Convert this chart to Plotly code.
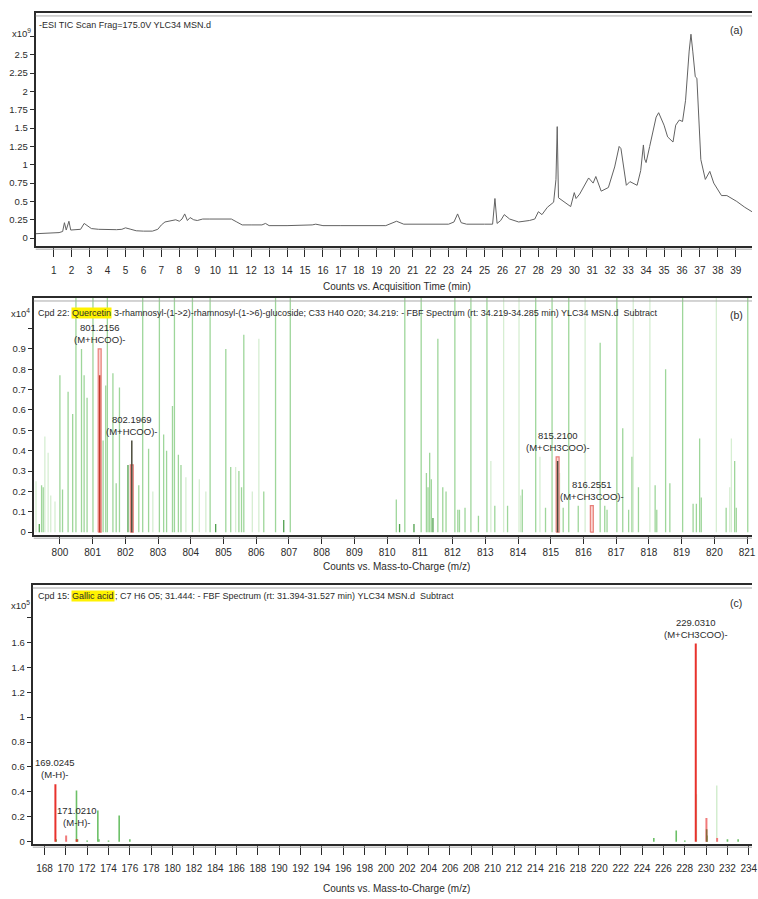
import plotly.graph_objects as go

W, H = 758, 899
FONT = "Liberation Sans, Arial, sans-serif"
INK = "#2b2b2b"

# ---------------- (a) total ion chromatogram ----------------
tic_time = [0.0, 0.5, 1.0, 1.3, 1.5, 1.6, 1.7, 1.85, 1.95, 2.2, 2.5, 2.7, 2.85, 3.1, 3.5,
            4.0, 4.5, 4.8, 5.0, 5.3, 5.6, 6.0, 6.5, 6.8, 7.0, 7.2, 7.5, 7.8, 8.0, 8.15,
            8.3, 8.45, 8.6, 8.8, 9.0, 9.3, 9.7, 10.0, 10.5, 10.9, 11.2, 11.5, 12.0, 12.6,
            12.8, 13.0, 14.0, 15.0, 15.4, 15.6, 16.0, 17.0, 18.0, 19.0, 19.5, 19.9, 20.1,
            20.5, 21.0, 22.0, 23.0, 23.3, 23.5, 23.7, 24.0, 25.0, 25.45, 25.58, 25.7, 25.9,
            26.1, 26.4, 26.9, 27.5, 27.8, 28.0, 28.2, 28.5, 28.85, 28.98, 29.05, 29.12,
            29.3, 29.6, 29.8, 30.0, 30.1, 30.3, 30.6, 30.8, 31.05, 31.2, 31.5, 31.9, 32.25,
            32.5, 32.6, 32.75, 32.9, 33.1, 33.5, 33.7, 33.85, 33.92, 34.0, 34.2, 34.47,
            34.56, 34.7, 34.85, 35.0, 35.2, 35.5, 35.65, 35.85, 36.03, 36.2, 36.4, 36.5,
            36.6, 36.74, 36.83, 36.96, 37.05, 37.3, 37.55, 37.77, 38.2, 38.5, 39.05, 39.5,
            39.9]
tic_counts = [0.06, 0.063, 0.07, 0.075, 0.09, 0.21, 0.11, 0.23, 0.11, 0.11, 0.12, 0.2, 0.17,
              0.13, 0.12, 0.115, 0.115, 0.12, 0.14, 0.12, 0.1, 0.095, 0.095, 0.12, 0.18,
              0.22, 0.23, 0.25, 0.23, 0.26, 0.33, 0.24, 0.28, 0.25, 0.24, 0.26, 0.26, 0.26,
              0.27, 0.26, 0.22, 0.18, 0.18, 0.18, 0.2, 0.17, 0.17, 0.17, 0.18, 0.19, 0.17,
              0.17, 0.17, 0.18, 0.17, 0.21, 0.23, 0.19, 0.19, 0.19, 0.19, 0.22, 0.33, 0.21,
              0.19, 0.19, 0.19, 0.54, 0.2, 0.24, 0.32, 0.26, 0.22, 0.24, 0.26, 0.36, 0.32,
              0.42, 0.49, 0.8, 1.52, 0.55, 0.52, 0.46, 0.43, 0.62, 0.54, 0.6, 0.74, 0.82,
              0.75, 0.84, 0.64, 0.69, 0.97, 1.25, 1.22, 1.0, 0.72, 0.77, 0.72, 0.92, 1.27,
              1.08, 1.03, 1.25, 1.59, 1.65, 1.71, 1.63, 1.54, 1.38, 1.31, 1.54, 1.61, 1.59,
              1.88, 2.55, 2.78, 2.55, 2.2, 2.18, 1.4, 1.07, 0.8, 0.91, 0.75, 0.58, 0.58,
              0.5, 0.42, 0.36]
a_xticks = list(range(1, 40))
a_yticks = [0, 0.25, 0.5, 0.75, 1, 1.25, 1.5, 1.75, 2, 2.25, 2.5, 2.75]
a_yticktext = ["0", "0.25", "0.5", "0.75", "1", "1.25", "1.5", "1.75", "2", "2.25", "2.5", " "]

# ---------------- (b) quercetin glycoside spectrum ----------------
b_tall_mz = [800.49, 801.01, 801.45, 802.53, 803.04, 803.50, 804.05, 804.59, 805.07, 805.62,
             806.59, 807.04, 810.54, 811.04, 811.55, 812.07, 812.56, 813.05, 814.54, 815.04,
             815.55, 816.51, 817.02, 818.51, 819.03, 821.02]
b_tall_h = [1.2, 1.2, 1.2, 1.2, 1.2, 1.2, 1.2, 1.2, 0.9, 0.97,
            1.2, 1.2, 1.2, 1.2, 0.95, 1.2, 1.2, 1.2, 1.2, 1.2,
            1.2, 0.93, 1.2, 0.80, 1.2, 1.2]
b_pale_tall_mz = [806.08, 813.56, 814.03, 816.05, 817.52, 818.03, 820.06]
b_pale_tall_h = [0.95, 1.2, 1.2, 1.2, 1.2, 1.2, 1.2]
b_peak_mz = [799.44, 799.49, 800.00, 800.08, 800.25, 800.39, 800.66, 800.74, 800.83, 801.32,
             801.40, 801.62, 801.72, 801.82, 802.41, 802.71, 803.17, 803.26, 803.44, 803.62,
             803.70, 805.22, 805.47, 805.55, 806.23, 810.28, 811.20, 811.25, 811.30, 811.35,
             811.70, 811.80, 812.16, 812.21, 812.38, 812.79, 813.29, 813.68, 814.13, 814.84,
             815.38, 815.84, 816.65, 816.72, 817.20, 817.38, 817.48, 817.68, 818.19, 818.24,
             818.64, 819.35, 819.45, 819.55, 819.60, 820.36, 820.62, 820.67]
b_peak_h = [0.23, 0.22, 0.77, 0.21, 0.69, 0.58, 0.90, 0.77, 0.66, 0.45,
            0.72, 0.78, 0.24, 0.71, 0.23, 0.41, 0.48, 0.40, 0.62, 0.38,
            0.33, 0.32, 0.30, 0.22, 0.20, 0.16, 0.29, 0.22, 0.39, 0.26,
            0.22, 0.20, 0.11, 0.11, 0.12, 0.08, 0.13, 0.13, 0.21, 0.12,
            0.12, 0.13, 0.13, 0.11, 0.51, 0.11, 0.37, 0.22, 0.23, 0.11,
            0.24, 0.14, 0.14, 0.46, 0.17, 0.12, 0.35, 0.12]
b_pale_mz = [799.27, 799.54, 799.64, 799.72, 799.85, 802.84, 803.85, 804.26, 804.46, 805.37,
             805.88, 813.17, 814.08, 814.67, 815.27, 820.47, 820.52]
b_pale_h = [0.25, 0.47, 0.39, 0.18, 0.15, 0.20, 0.27, 0.26, 0.20, 0.32,
            0.20, 0.35, 0.18, 0.37, 0.29, 0.22, 0.46]
b_dark_mz = [799.37, 802.08, 804.76, 806.84, 810.38, 810.82, 811.40]
b_dark_h = [0.04, 0.33, 0.04, 0.06, 0.04, 0.04, 0.07]
# assigned adducts: observed intensity and predicted isotope box
b_ion_mz = [801.2156, 802.1969, 815.2100, 816.2551]
b_ion_label = ["(M+HCOO)-", "(M+HCOO)-", "(M+CH3COO)-", "(M+CH3COO)-"]
b_ion_obs = [0.77, 0.45, 0.35, 0.0]
b_ion_pred = [0.90, 0.33, 0.37, 0.13]
b_ion_label_y = [0.90, 0.45, 0.37, 0.13]
b_xticks = list(range(800, 822))
b_yticks = [0, 0.1, 0.2, 0.3, 0.4, 0.5, 0.6, 0.7, 0.8, 0.9, 1.0]
b_yticktext = ["0", "0.1", "0.2", "0.3", "0.4", "0.5", "0.6", "0.7", "0.8", "0.9", " "]

# ---------------- (c) gallic acid spectrum ----------------
c_peak_mz = [169.1, 171.0, 171.1, 172.0, 173.0, 173.1, 174.0, 175.0, 176.0, 225.1, 227.2,
             228.0, 230.1, 232.0, 233.0]
c_peak_h = [0.02, 0.41, 0.02, 0.01, 0.25, 0.02, 0.01, 0.21, 0.02, 0.03, 0.09,
            0.01, 0.05, 0.02, 0.02]
c_pale_mz = [229.1, 231.0]
c_pale_h = [0.38, 0.45]
c_ion_mz = [169.0245, 171.0210, 229.0310]
c_ion_label = ["(M-H)-", "(M-H)-", "(M+CH3COO)-"]
c_ion_h = [0.46, 0.02, 1.59]
c_ion_label_y = [0.46, 0.08, 1.59]
c_iso_mz = [170.03, 230.03, 231.03]
c_iso_h = [0.05, 0.19, 0.03]
c_obs_mz = [230.05]
c_obs_h = [0.10]
c_xticks = list(range(168, 236, 2))
c_yticks = [0, 0.2, 0.4, 0.6, 0.8, 1.0, 1.2, 1.4, 1.6, 1.8]
c_yticktext = ["0", "0.2", "0.4", "0.6", "0.8", "1", "1.2", "1.4", "1.6", " "]


def px(x):
    return x / W


def py(y):
    return 1 - y / H


def stems(mz, h):
    xs, ys = [], []
    for m, v in zip(mz, h):
        xs += [m, m, None]
        ys += [0, v, None]
    return xs, ys


def boxes(mz, h, half):
    xs, ys = [], []
    for m, v in zip(mz, h):
        xs += [m - half, m - half, m + half, m + half, m - half, None]
        ys += [0, v, v, 0, 0, None]
    return xs, ys


fig = go.Figure()

# (a)
fig.add_trace(go.Scatter(x=tic_time, y=tic_counts, mode="lines",
                         line=dict(color="#626262", width=1.0), xaxis="x", yaxis="y"))


def add_stems(mz, h, color, width, ax):
    xs, ys = stems(mz, h)
    fig.add_trace(go.Scatter(x=xs, y=ys, mode="lines", line=dict(color=color, width=width),
                             xaxis="x" + ax, yaxis="y" + ax))


# (b)
add_stems(b_pale_tall_mz, b_pale_tall_h, "#d6eed2", 1.3, "2")
add_stems(b_pale_mz, b_pale_h, "#d6eed2", 1.3, "2")
add_stems(b_tall_mz, b_tall_h, "#9ed69a", 1.3, "2")
add_stems(b_peak_mz, b_peak_h, "#9ed69a", 1.3, "2")
add_stems(b_dark_mz, b_dark_h, "#4f9f4c", 1.3, "2")
bx, by = boxes(b_ion_mz, b_ion_pred, 0.045)
fig.add_trace(go.Scatter(x=bx, y=by, mode="lines", fill="toself",
                         fillcolor="rgba(245,170,165,0.5)",
                         line=dict(color="#e87f78", width=1.2), xaxis="x2", yaxis="y2"))
add_stems(b_ion_mz[:1], b_ion_obs[:1], "#c0392b", 1.5, "2")
add_stems(b_ion_mz[1:], b_ion_obs[1:], "#4a4a3a", 1.5, "2")

# (c)
add_stems(c_pale_mz, c_pale_h, "#cdeac8", 1.3, "3")
add_stems(c_peak_mz, c_peak_h, "#6cc067", 1.6, "3")
add_stems(c_iso_mz, c_iso_h, "#f07a7a", 2.0, "3")
add_stems(c_ion_mz, c_ion_h, "#e8322c", 2.0, "3")
add_stems(c_obs_mz, c_obs_h, "#8a6a3a", 1.6, "3")

panels = {
    "": dict(left=36, top=13, bottom=247, xr=[0, 39.9], yr=[-0.11, 3.07],
             xt=a_xticks, yt=a_yticks, ytt=a_yticktext, tl=9, so=5),
    "2": dict(left=34, top=299, bottom=537, xr=[799.2, 821.15], yr=[-0.015, 1.15],
              xt=b_xticks, yt=b_yticks, ytt=b_yticktext, tl=7, so=0),
    "3": dict(left=33, top=587, bottom=847, xr=[166.9, 234.3], yr=[-0.02, 2.06],
              xt=c_xticks, yt=c_yticks, ytt=c_yticktext, tl=9, so=5),
}

layout = dict(width=W, height=H, margin=dict(l=0, r=0, t=0, b=0),
              paper_bgcolor="white", plot_bgcolor="white", showlegend=False,
              font=dict(family=FONT, size=10, color=INK))
shapes = []
for k, p in panels.items():
    xa = "xaxis" + k
    ya = "yaxis" + k
    layout[xa] = dict(domain=[px(p["left"]), 1], range=p["xr"], anchor="y" + k,
                      showline=True, linecolor=INK, linewidth=2, mirror=True,
                      ticks="outside", ticklen=p["tl"], tickwidth=1.2, tickcolor=INK,
                      tickvals=p["xt"], showgrid=False, zeroline=False,
                      ticklabelstandoff=p["so"], ticklabeloverflow="allow",
                      tickfont=dict(size=10, family=FONT, color=INK))
    layout[ya] = dict(domain=[py(p["bottom"]), py(p["top"])], range=p["yr"], anchor="x" + k,
                      showline=True, linecolor=INK, linewidth=2,
                      ticks="outside", ticklen=4, tickwidth=1.2, tickcolor=INK,
                      tickvals=p["yt"], ticktext=p["ytt"], showgrid=False, zeroline=False,
                      tickfont=dict(size=9.5, family=FONT, color=INK))
    # light rule under the axis line and under the top frame
    for yy in (p["bottom"] + 3, p["top"] + 3):
        shapes.append(dict(type="line", xref="paper", yref="paper",
                           x0=px(p["left"]), x1=1, y0=py(yy), y1=py(yy),
                           line=dict(color="#a8a8a8", width=1)))
layout["shapes"] = shapes

ann = []


def text(x, y, s, size=9, anchor="left", **kw):
    ann.append(dict(x=px(x), y=py(y), xref="paper", yref="paper", text=s, showarrow=False,
                    xanchor=anchor, yanchor="middle", font=dict(family=FONT, size=size, color=INK),
                    **kw))


# headers
text(37, 25, "-ESI TIC Scan Frag=175.0V YLC34 MSN.d")
text(36, 314, "Cpd 22:")
text(72, 314, "Quercetin", bgcolor="#fff200", borderpad=0)
text(113, 314, "3-rhamnosyl-(1->2)-rhamnosyl-(1->6)-glucoside; C33 H40 O20; 34.219: - FBF "
               "Spectrum (rt: 34.219-34.285 min) YLC34 MSN.d&nbsp;&nbsp;Subtract")
text(36, 598, "Cpd 15:")
text(72, 598, "Gallic acid", bgcolor="#fff200", borderpad=0)
text(114, 598, "; C7 H6 O5; 31.444: - FBF Spectrum (rt: 31.394-31.527 min) YLC34 MSN.d"
               "&nbsp;&nbsp;Subtract")
# panel letters
text(742, 30, "(a)", size=10.5, anchor="center")
text(742, 316, "(b)", size=10.5, anchor="center")
text(742, 605, "(c)", size=10.5, anchor="center")
# exponent labels
text(22, 33, "x10<sup>9</sup>", size=9.5, anchor="center")
text(21, 314, "x10<sup>4</sup>", size=9.5, anchor="center")
text(21, 607, "x10<sup>5</sup>", size=9.5, anchor="center")
# axis titles
text(400, 287, "Counts vs. Acquisition Time (min)", size=10, anchor="center")
text(400, 568, "Counts vs. Mass-to-Charge (m/z)", size=10, anchor="center")
text(400, 891, "Counts vs. Mass-to-Charge (m/z)", size=10, anchor="center")

# ion labels, placed above their marks
for m, lab, yv in zip(b_ion_mz, b_ion_label, b_ion_label_y):
    ann.append(dict(x=m, y=yv, xref="x2", yref="y2", text=f"{m:.4f}<br>{lab}",
                    showarrow=False, yanchor="bottom", xanchor="center", yshift=2,
                    font=dict(family=FONT, size=9.5, color=INK)))
for m, lab, yv in zip(c_ion_mz, c_ion_label, c_ion_label_y):
    ann.append(dict(x=m, y=yv, xref="x3", yref="y3", text=f"{m:.4f}<br>{lab}",
                    showarrow=False, yanchor="bottom", xanchor="center", yshift=2,
                    font=dict(family=FONT, size=9.5, color=INK)))
layout["annotations"] = ann

fig.update_layout(**layout)
fig.write_html("out.html")
